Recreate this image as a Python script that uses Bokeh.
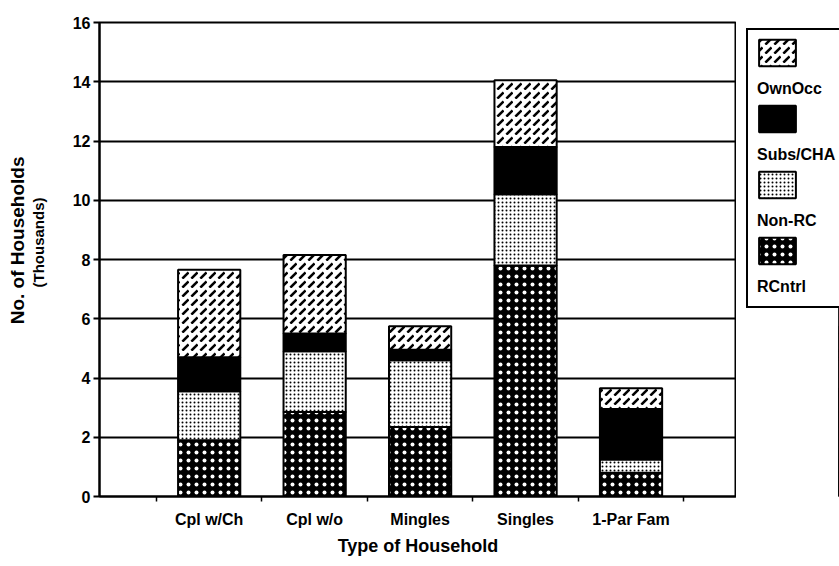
from bokeh.plotting import figure
from bokeh.models import Range1d, FixedTicker, Legend, LegendItem, Title
from bokeh.layouts import row
from bokeh.embed import file_html
from bokeh.resources import INLINE

# ---------------- data ----------------
categories = ["Cpl w/Ch", "Cpl w/o", "Mingles", "Singles", "1-Par Fam"]
series_names = ["RCntrl", "Non-RC", "Subs/CHA", "OwnOcc"]
rcntrl = [1.9, 2.85, 2.35, 7.8, 0.8]
non_rc = [1.65, 2.05, 2.25, 2.4, 0.45]
subs_cha = [1.15, 0.6, 0.35, 1.6, 1.7]
own_occ = [2.95, 2.65, 0.8, 2.25, 0.7]
y_ticks = [0, 2, 4, 6, 8, 10, 12, 14, 16]

series_values = [rcntrl, non_rc, subs_cha, own_occ]

FONT = "Liberation Sans"

styles = {
    "RCntrl": dict(fill_color="black", hatch_pattern="dot", hatch_color="white",
                   hatch_scale=8, hatch_weight=3.5),
    "Non-RC": dict(fill_color="white", hatch_pattern="dot", hatch_color="black",
                   hatch_scale=4, hatch_weight=1.4),
    "Subs/CHA": dict(fill_color="black"),
    "OwnOcc": dict(fill_color="white", hatch_pattern="right_diagonal_dash",
                   hatch_color="black", hatch_scale=9, hatch_weight=2.5),
}

x_pos = [i + 1 for i in range(len(categories))]

stacks = {}
bottom = [0.0] * len(categories)
for name, vals in zip(series_names, series_values):
    top = [b + v for b, v in zip(bottom, vals)]
    stacks[name] = (bottom, top)
    bottom = top

H = 562

# ---------------- main chart ----------------
p = figure(width=736, height=H, x_range=Range1d(-0.04, 6.0), y_range=Range1d(0, 16),
           toolbar_location=None, output_backend="svg",
           min_border_left=99, min_border_right=0, min_border_top=22, min_border_bottom=H - 496)
p.background_fill_color = "white"
p.border_fill_color = "white"
p.outline_line_color = "black"
p.outline_line_width = 2

for name in series_names:
    b, t = stacks[name]
    p.vbar(x=x_pos, bottom=b, top=t, width=0.59,
           line_color="black", line_width=2, **styles[name])

xax = p.xaxis[0]
xax.ticker = FixedTicker(ticks=x_pos, minor_ticks=[x - 0.5 for x in x_pos] + [x_pos[-1] + 0.5])
xax.major_label_overrides = {x: c for x, c in zip(x_pos, categories)}
xax.axis_line_width = 2
xax.major_tick_out = 0
xax.major_tick_in = 0
xax.major_tick_line_color = None
xax.minor_tick_out = 5
xax.minor_tick_in = 0
xax.minor_tick_line_width = 1.5
xax.minor_tick_line_color = "black"
xax.major_label_standoff = 9
xax.major_label_text_font = FONT
xax.major_label_text_font_style = "bold"
xax.major_label_text_font_size = "16px"
xax.major_label_text_color = "black"
xax.axis_label = "Type of Household"
xax.axis_label_text_font = FONT
xax.axis_label_text_font_style = "bold"
xax.axis_label_text_font_size = "18px"
xax.axis_label_text_color = "black"
xax.axis_label_standoff = 5

yax = p.yaxis[0]
yax.ticker = FixedTicker(ticks=y_ticks)
yax.axis_line_width = 2
yax.major_tick_out = 6
yax.major_tick_in = 0
yax.major_tick_line_width = 2
yax.minor_tick_line_color = None
yax.major_label_standoff = 3
yax.major_label_text_font = FONT
yax.major_label_text_font_style = "bold"
yax.major_label_text_font_size = "16px"
yax.major_label_text_color = "black"
# blank axis label only reserves room between tick labels and the titles
yax.axis_label = " "
yax.axis_label_text_font_size = "15px"
yax.axis_label_standoff = 3

p.xgrid.visible = False
p.ygrid.ticker = FixedTicker(ticks=y_ticks)
p.ygrid.grid_line_color = "black"
p.ygrid.grid_line_width = 2

p.add_layout(Title(text="(Thousands)", align="right", offset=175, standoff=0,
                   vertical_align="bottom", text_font=FONT, text_font_style="bold",
                   text_font_size="15px", text_color="black"), "left")
p.add_layout(Title(text="No. of Households", align="right", offset=134, standoff=0,
                   vertical_align="bottom", text_font=FONT, text_font_style="bold",
                   text_font_size="19px", text_color="black"), "left")

# ---------------- legend panel (separate figure at the right) ----------------
q = figure(width=103, height=H, x_range=Range1d(-2, -1), y_range=Range1d(0, 16),
           x_axis_location=None, y_axis_location=None,
           toolbar_location=None, output_backend="svg",
           min_border_left=0, min_border_right=0, min_border_top=22, min_border_bottom=H - 496)
q.background_fill_color = "white"
q.border_fill_color = "white"
q.outline_line_color = None
q.grid.visible = False

swatch_r = {}
for name in series_names:
    b, t = stacks[name]
    # same bars, outside q's visible range: only their styles feed the legend swatches
    swatch_r[name] = q.vbar(x=x_pos, bottom=b, top=t, width=0.59,
                            line_color="black", line_width=2, **styles[name])
blank = q.vbar(x=[], top=[], width=0.59, fill_alpha=0, line_alpha=0)

legend_order = list(reversed(series_names))

sw_items = []
for n in legend_order:
    sw_items.append(LegendItem(label=" ", renderers=[swatch_r[n]]))
    sw_items.append(LegendItem(label=" ", renderers=[blank]))

swatches = Legend(
    items=sw_items, location=(10, 188), margin=0, padding=6,
    glyph_width=46, glyph_height=33, spacing=0, label_width=140,
    label_height=20, label_text_font_size="16px",
    border_line_color="black", border_line_width=2, border_line_alpha=1,
    background_fill_color="white", background_fill_alpha=1)
q.add_layout(swatches)

labels = Legend(
    items=[LegendItem(label=n, renderers=[blank]) for n in legend_order],
    location=(20, 195), margin=0, padding=0,
    glyph_width=1, glyph_height=28, spacing=38, label_standoff=0,
    label_text_font=FONT, label_text_font_style="bold",
    label_text_font_size="16px", label_text_color="black",
    border_line_color=None, background_fill_alpha=0)
q.add_layout(labels)

layout = row(p, q)
open("out.html", "w").write(file_html(layout, INLINE))
